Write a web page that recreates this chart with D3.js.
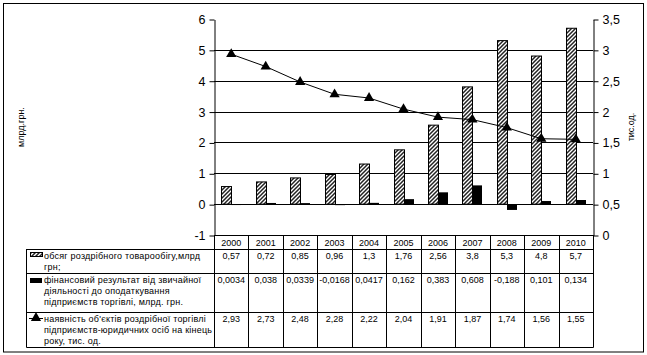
<!DOCTYPE html>
<html><head><meta charset="utf-8">
<script src="https://cdn.jsdelivr.net/npm/d3@7"></script>
<style>
body{margin:0;background:#fff;}
svg text{font-family:"Liberation Sans",Arial,sans-serif;fill:#000;}
</style></head>
<body><svg id="c" width="647" height="355"></svg>
<script>
const years = ["2000","2001","2002","2003","2004","2005","2006","2007","2008","2009","2010"];
const turnover = [0.57,0.72,0.85,0.96,1.3,1.76,2.56,3.8,5.3,4.8,5.7];
const finResult = [0.0034,0.038,0.0339,-0.0168,0.0417,0.162,0.383,0.608,-0.188,0.101,0.134];
const stores = [2.93,2.73,2.48,2.28,2.22,2.04,1.91,1.87,1.74,1.56,1.55];
const leftTicks = [-1,0,1,2,3,4,5,6];
const rightTicks = [0,0.5,1,1.5,2,2.5,3,3.5];
const leftTitle = "млрд.грн.";
const rightTitle = "тис.од.";
const legendLines = [
  ["обсяг роздрібного товарообігу,млрд","грн;"],
  ["фінансовий результат від звичайної","діяльності до оподаткування","підприємств торгівлі, млрд. грн."],
  ["наявність об'єктів роздрібної торгівлі","підприємств-юридичних осіб на кінець","року, тис. од."]
];
const series = [turnover, finResult, stores];

const svg = d3.select("#c");
const fmt = v => String(v).replace(".", ",");

const X0 = 214, X1 = 593, YT = 19, YB = 235;
const x = d3.scaleBand().domain(years).range([X0, X1]);
const yL = d3.scaleLinear().domain([-1, 6]).range([YB, YT]);
const yR = d3.scaleLinear().domain([0, 3.5]).range([YB, YT]);

const defs = svg.append("defs");
const pat = defs.append("pattern").attr("id","hatch").attr("patternUnits","userSpaceOnUse")
  .attr("width",4).attr("height",4);
pat.append("rect").attr("width",4).attr("height",4).attr("fill","#fff");
pat.append("path").attr("d","M-1,1 l2,-2 M0,4 l4,-4 M3,5 l2,-2").attr("stroke","#222").attr("stroke-width",1.5);

// outer border
svg.append("rect").attr("x",3.5).attr("y",3.5).attr("width",640).attr("height",348.5)
  .attr("fill","none").attr("stroke","#000");

// gridlines
svg.append("g").selectAll("line").data([0,1,2,3,4,5]).join("line")
  .attr("x1",X0).attr("x2",X1).attr("y1",d=>Math.round(yL(d))+0.5).attr("y2",d=>Math.round(yL(d))+0.5)
  .attr("stroke","#000");

// bars
const bw = 10;
svg.append("g").selectAll("rect").data(turnover).join("rect")
  .attr("x",(d,i)=>Math.round(x(years[i])+x.bandwidth()/2-bw)+0.5)
  .attr("y",d=>yL(d)).attr("width",bw).attr("height",d=>yL(0)-yL(d))
  .attr("fill","url(#hatch)").attr("stroke","#000");
svg.append("g").selectAll("rect").data(finResult).join("rect")
  .attr("x",(d,i)=>Math.round(x(years[i])+x.bandwidth()/2))
  .attr("y",d=>Math.min(yL(d),yL(0))).attr("width",bw)
  .attr("height",d=>Math.max(1,Math.abs(yL(0)-yL(d))))
  .attr("fill","#000");

// line
const cx = (d,i)=>x(years[i])+x.bandwidth()/2;
svg.append("path").datum(stores)
  .attr("d", d3.line().x(cx).y(d=>yR(d)))
  .attr("fill","none").attr("stroke","#000").attr("stroke-width",1);
const tri = d3.symbol().type(d3.symbolTriangle).size(45);
svg.append("g").selectAll("path").data(stores).join("path")
  .attr("d",tri).attr("transform",(d,i)=>`translate(${cx(d,i)},${yR(d)})`).attr("fill","#000");

// axes
const gl = svg.append("g").attr("transform",`translate(${X0+0.5},0.5)`)
  .call(d3.axisLeft(yL).tickValues(leftTicks).tickSize(5).tickSizeOuter(0).tickPadding(4).tickFormat(d=>fmt(d)));
const gr = svg.append("g").attr("transform",`translate(${X1+0.5},0.5)`)
  .call(d3.axisRight(yR).tickValues(rightTicks).tickSize(5).tickSizeOuter(0).tickPadding(4).tickFormat(d=>fmt(d)));
[gl,gr].forEach(g=>{
  g.select(".domain").attr("stroke","#000");
  g.selectAll(".tick line").attr("stroke","#000");
  g.selectAll("text").style("font-size","12.5px").style("font-family","'Liberation Sans',Arial,sans-serif");
});

// axis titles
svg.append("text").attr("transform","translate(24,127) rotate(-90)").attr("text-anchor","middle")
  .style("font-size","9px").text(leftTitle);
svg.append("text").attr("transform","translate(634,127) rotate(-90)").attr("text-anchor","middle")
  .style("font-size","9px").text(rightTitle);

// data table
const TL = 26.5;
const rowY = [235, 249, 273, 312, 347];
const tg = svg.append("g");
tg.append("line").attr("x1",X0).attr("x2",X1).attr("y1",rowY[0]+0.5).attr("y2",rowY[0]+0.5).attr("stroke","#000");
rowY.slice(1).forEach(yy=>{
  tg.append("line").attr("x1",TL).attr("x2",X1+0.5).attr("y1",yy+0.5).attr("y2",yy+0.5).attr("stroke","#000");
});
tg.append("line").attr("x1",TL).attr("x2",TL).attr("y1",rowY[1]).attr("y2",rowY[4]+0.5).attr("stroke","#000");
const colEdges = years.map(y=>x(y)).concat([X1]);
colEdges.forEach(e=>{
  const xx = Math.round(e)+0.5;
  tg.append("line").attr("x1",xx).attr("x2",xx).attr("y1",rowY[0]).attr("y2",rowY[4]+0.5).attr("stroke","#000");
});
tg.selectAll("text.yr").data(years).join("text").attr("class","yr")
  .attr("x",y=>x(y)+x.bandwidth()/2).attr("y",rowY[0]+11).attr("text-anchor","middle")
  .style("font-size","9px").text(d=>d);
series.forEach((s,r)=>{
  tg.selectAll(`text.v${r}`).data(s).join("text").attr("class",`v${r}`)
    .attr("x",(d,i)=>x(years[i])+x.bandwidth()/2).attr("y",rowY[r+1]+10).attr("text-anchor","middle")
    .style("font-size","9px").text(d=>fmt(d));
});
legendLines.forEach((lines,r)=>{
  const t = tg.append("text").attr("x",44).attr("y",rowY[r+1]+10).style("font-size","9px")
    .style("letter-spacing","0.22px");
  lines.forEach((ln,k)=>t.append("tspan").attr("x",44).attr("dy",k?11:0).text(ln));
});
const ky = [rowY[1]+6, rowY[2]+7, rowY[3]+6];
tg.append("rect").attr("x",30.5).attr("y",ky[0]-2.5).attr("width",12).attr("height",4)
  .attr("fill","url(#hatch)").attr("stroke","#000");
tg.append("rect").attr("x",30).attr("y",ky[1]-2).attr("width",12).attr("height",5).attr("fill","#000");
tg.append("line").attr("x1",29).attr("x2",43).attr("y1",ky[2]+0.5).attr("y2",ky[2]+0.5).attr("stroke","#000");
tg.append("path").attr("d",tri).attr("transform",`translate(36,${ky[2]})`).attr("fill","#000");
</script></body></html>
